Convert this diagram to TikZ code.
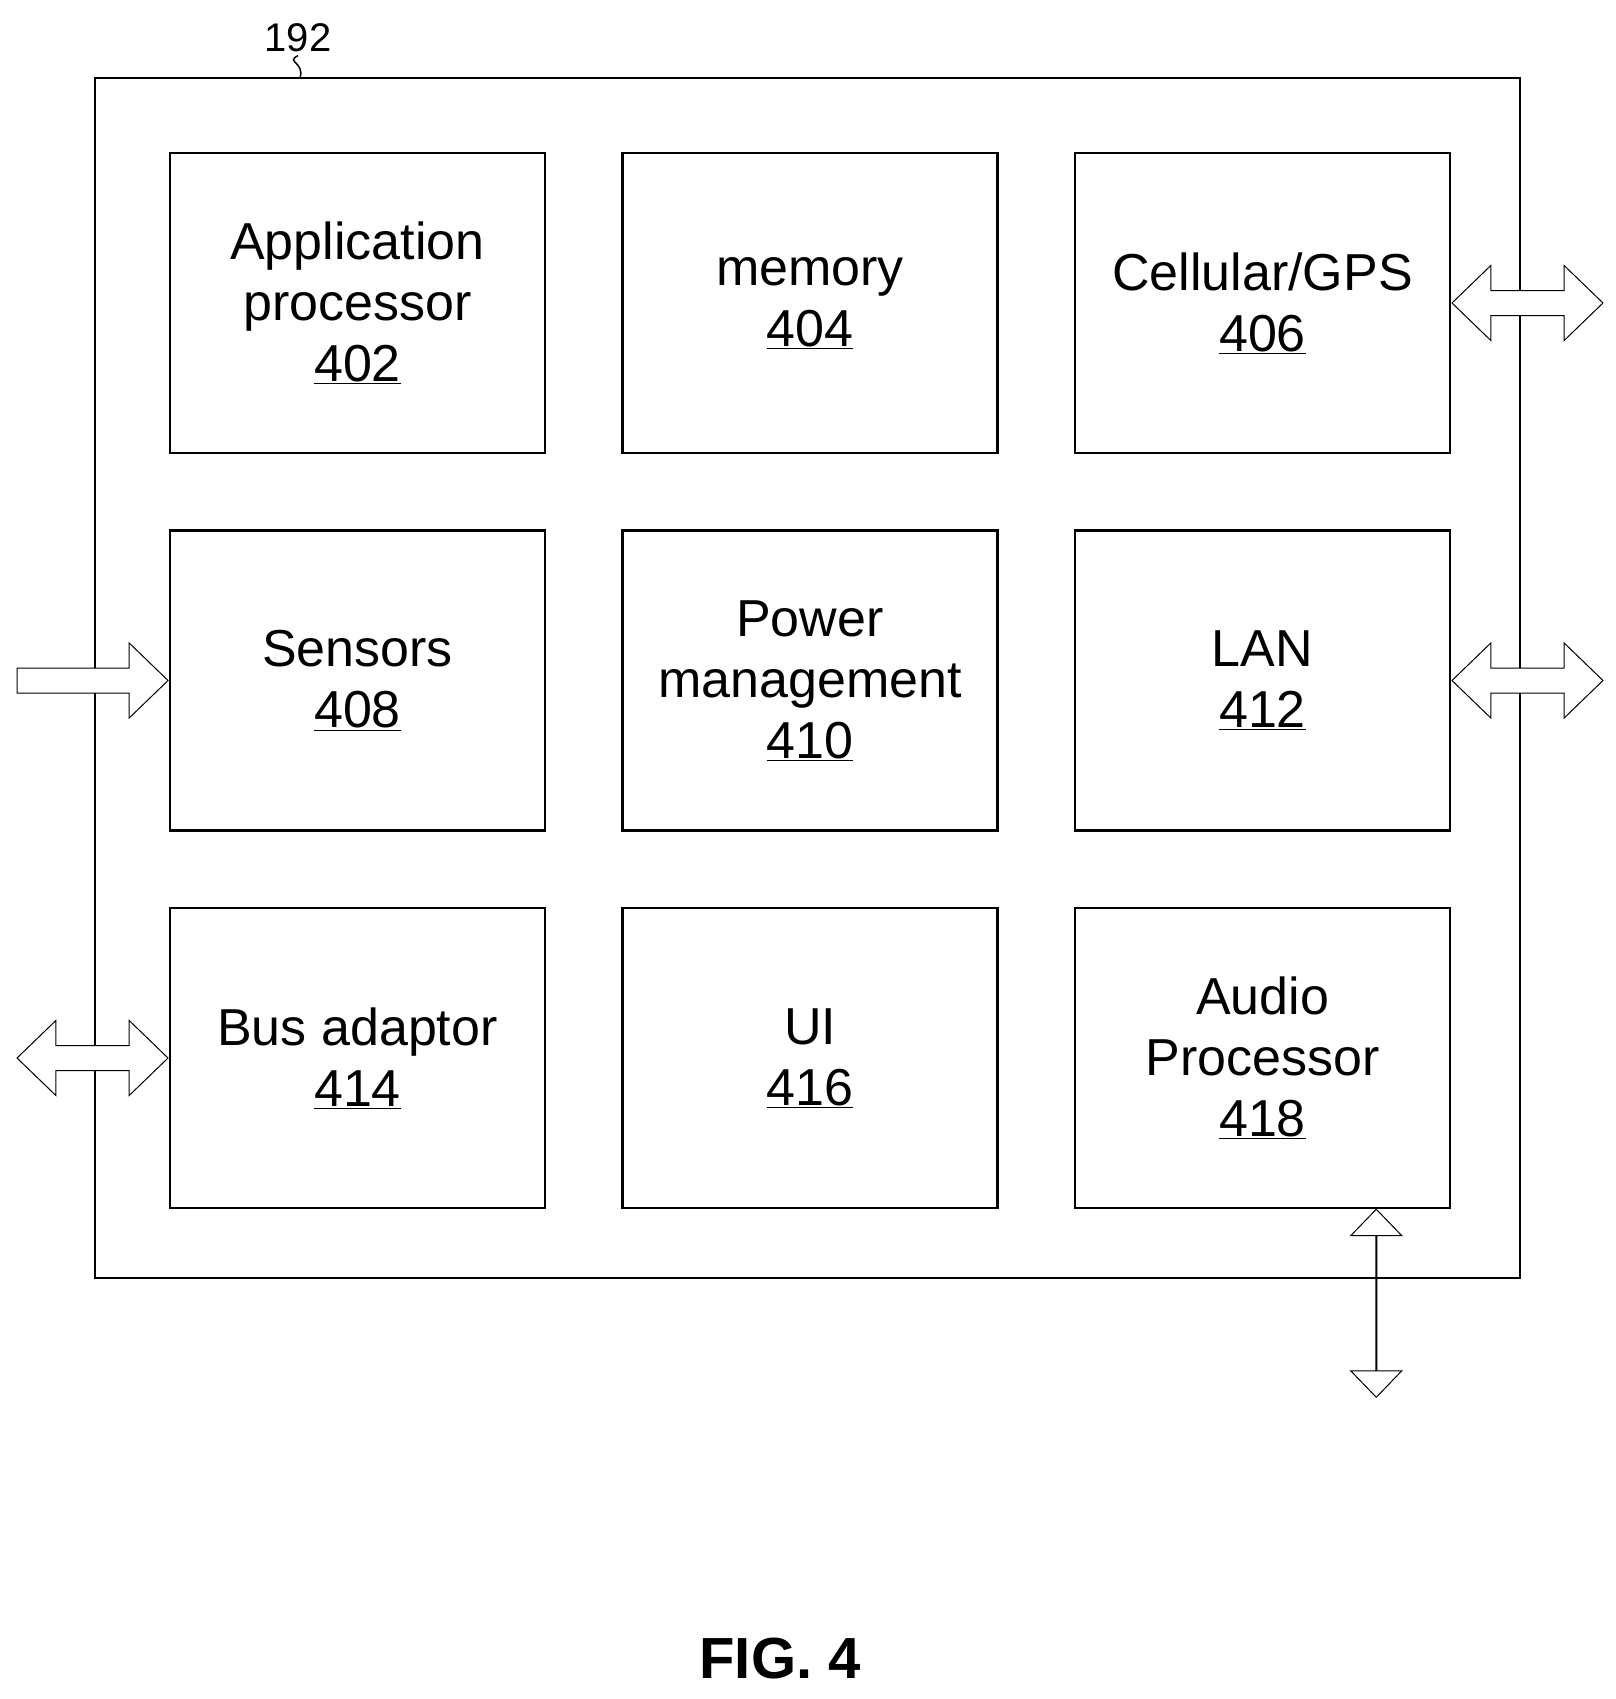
\documentclass[tikz,border=0pt]{standalone}
\usepackage{fontspec}
\setmainfont{Liberation Sans}
\usetikzlibrary{positioning,shapes.arrows}
\tikzset{blk/.style = {draw, line width=2.5pt, minimum width=375pt, minimum height=300pt,
                       align=center, font=\fontsize{52}{61}\selectfont, inner sep=0pt},
         dbl/.style = {double arrow, draw, fill=white, line width=1pt, inner xsep=0pt, inner ysep=12pt,
                       double arrow head extend=25pt, double arrow tip angle=88, minimum height=151pt},
         sgl/.style = {single arrow, draw, fill=white, line width=1pt, inner xsep=0pt, inner ysep=12pt,
                       single arrow head extend=25pt, single arrow tip angle=88, minimum height=151pt}}
\newcommand{\num}[1]{\underline{#1}}

\begin{document}
\begin{tikzpicture}[x=1pt, y=-1pt]
    \useasboundingbox (0,0) rectangle (1616,1699);
    \draw[line width=2.5pt] (95,78) rectangle (1520,1278);
    \node[font=\fontsize{40}{40}\selectfont] (lbl) at (298,38) {192};
    \draw[line width=1.5pt] (lbl.south) .. controls (285,62) and (305,62) .. (300,78);
    \node[blk] (ap) at (357.5,303) {Application\\processor\\\num{402}};
    \node[blk, right=75pt of ap] (mem) {memory\\\num{404}};
    \node[blk, right=75pt of mem] (cell) {Cellular/GPS\\\num{406}};
    \node[blk, below=75pt of ap] (sen) {Sensors\\\num{408}};
    \node[blk, right=75pt of sen] (pwr) {Power\\management\\\num{410}};
    \node[blk, right=75pt of pwr] (lan) {LAN\\\num{412}};
    \node[blk, below=75pt of sen] (bus) {Bus adaptor\\\num{414}};
    \node[blk, right=75pt of bus] (ui) {UI\\\num{416}};
    \node[blk, right=75pt of ui] (aud) {Audio\\Processor\\\num{418}};
    % external links
    \node[dbl, anchor=west] (celx) at (cell.east) {};
    \node[dbl, anchor=west] (lanx) at (lan.east) {};
    \node[sgl, anchor=tip] (senx) at (sen.west) {};
    \node[dbl, anchor=east] (busx) at (bus.west) {};
    \node[dbl, shape border rotate=90, minimum height=188pt] (audx) at ([xshift=-75pt, yshift=-94pt]aud.south east) {};
    \node[font=\bfseries\fontsize{58}{58}\selectfont] (fig) at (780,1659) {FIG. 4};
\end{tikzpicture}
\end{document}
